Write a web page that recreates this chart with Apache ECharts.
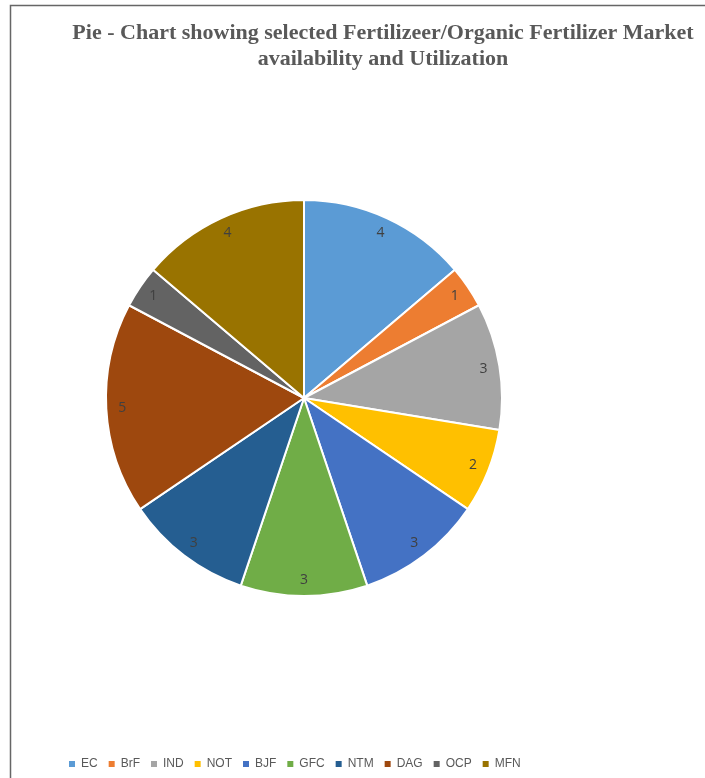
<!DOCTYPE html>
<html>
<head>
<meta charset="utf-8">
<script src="https://cdn.jsdelivr.net/npm/echarts@6/dist/echarts.min.js"></script>
<style>
html,body{margin:0;padding:0;background:#fff;}
#c{width:705px;height:778px;}
</style>
</head>
<body>
<div id="c"></div>
<script>
var categories = ['EC','BrF','IND','NOT','BJF','GFC','NTM','DAG','OCP','MFN'];
var values = [4,1,3,2,3,3,3,5,1,4];
var colors = ['#5B9BD5','#ED7D31','#A5A5A5','#FFC000','#4472C4','#70AD47','#255E91','#9E480E','#636363','#997300'];
var titleText = 'Pie - Chart showing selected Fertilizeer/Organic Fertilizer Market\navailability and Utilization';

var data = categories.map(function(n,i){return {name:n,value:values[i]};});
var chart = echarts.init(document.getElementById('c'));
chart.setOption({
  animation:false,
  color: colors,
  graphic:[
    {type:'rect',shape:{x:10.5,y:5.5,width:720,height:800},style:{fill:'none',stroke:'#666',lineWidth:1.5},silent:true},
    {type:'text',x:383,y:20,style:{text:titleText,font:'bold 22px "Liberation Serif", serif',fill:'#595959',textAlign:'center',lineHeight:26}}
  ],
  legend:{
    data:categories,
    left:62, top:753,
    icon:'rect', itemWidth:8, itemHeight:8, itemGap:9,
    textStyle:{color:'#595959',fontSize:12,fontFamily:'"Liberation Sans", sans-serif'}
  },
  series:[
    {
      type:'pie', center:[304,398], radius:[0,198], startAngle:90, clockwise:true,
      data:data, label:{show:false}, labelLine:{show:false},
      itemStyle:{borderColor:'#fff',borderWidth:2}, silent:true
    },
    {
      type:'pie', center:[304,398], radius:[160,198], startAngle:90, clockwise:true,
      data:data, silent:true, legendHoverLink:false,
      itemStyle:{color:'rgba(0,0,0,0)',borderWidth:0},
      label:{show:true,position:'inside',color:'#404040',fontSize:14,fontFamily:'"Open Sans", sans-serif',formatter:'{c}'},
      labelLine:{show:false}
    }
  ]
});
</script>
</body>
</html>
